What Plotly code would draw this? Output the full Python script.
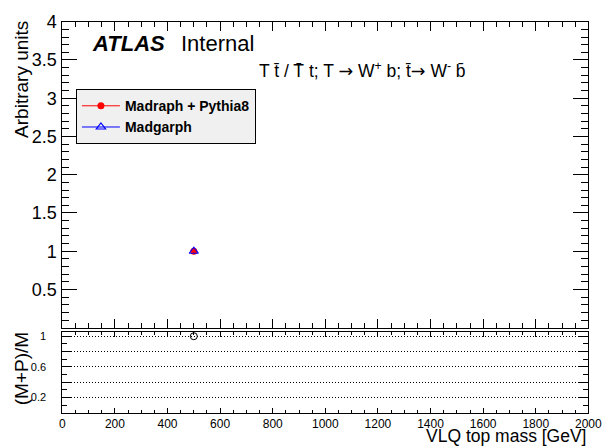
import plotly.graph_objects as go

# Generated VLQ masses and normalised yields
masses = [500]
madgraph_pythia = [1.0]
madgraph = [1.0]
ratio = [p / m for p, m in zip(madgraph_pythia, madgraph)]

FONT = "Liberation Sans"
W, H = 615, 448

def px_x(v):
    return v / W

def px_y(v):
    return 1 - v / H

fig = go.Figure()

fig.add_trace(go.Scatter(
    x=masses, y=madgraph_pythia, name="Madraph + Pythia8",
    mode="lines+markers", xaxis="x2", yaxis="y",
    line=dict(color="#ff0000", width=1),
    marker=dict(symbol="circle", size=7, color="#ff0000"),
))
fig.add_trace(go.Scatter(
    x=masses, y=madgraph, name="Madgarph",
    mode="lines+markers", xaxis="x2", yaxis="y",
    line=dict(color="#0000ff", width=1),
    marker=dict(symbol="triangle-up-open", size=8, color="#0000ff",
                line=dict(width=1.2, color="#0000ff")),
))
fig.add_trace(go.Scatter(
    x=masses, y=ratio, showlegend=False,
    mode="markers", xaxis="x", yaxis="y2",
    marker=dict(symbol="circle-open", size=7, color="black",
                line=dict(width=1, color="black")),
))

xdom = [px_x(61), px_x(602)]
axis_common = dict(showline=True, linecolor="black", linewidth=1,
                   mirror="ticks", ticks="inside", tickcolor="black",
                   zeroline=False, showgrid=False)

fig.update_layout(
    width=W, height=H,
    margin=dict(l=0, r=0, t=0, b=0),
    paper_bgcolor="white", plot_bgcolor="white",
    font=dict(family=FONT, color="black"),
    # ratio pad x axis (carries the mass labels)
    xaxis=dict(
        domain=xdom, anchor="y2", range=[0, 2000],
        tick0=0, dtick=200, ticklen=5,
        minor=dict(ticks="inside", dtick=50, ticklen=3, tickcolor="black"),
        tickfont=dict(size=12), ticklabelstandoff=0, ticklabeloverflow="allow",
        **axis_common,
    ),
    # main pad x axis
    xaxis2=dict(
        domain=xdom, anchor="y", matches="x", range=[0, 2000],
        tick0=0, dtick=200, ticklen=9, showticklabels=False,
        minor=dict(ticks="inside", dtick=50, ticklen=5, tickcolor="black"),
        **axis_common,
    ),
    yaxis=dict(
        domain=[px_y(325), px_y(12)], anchor="x2", range=[0, 4],
        tickvals=[0.5, 1, 1.5, 2, 2.5, 3, 3.5, 4],
        ticktext=["0.5", "1", "1.5", "2", "2.5", "3", "3.5", "4"],
        ticklen=15,
        minor=dict(ticks="inside", dtick=0.1, tick0=0, ticklen=7, tickcolor="black"),
        tickfont=dict(size=18), ticklabelstandoff=1,
        **axis_common,
    ),
    yaxis2=dict(
        domain=[px_y(412), px_y(329)], anchor="x", range=[0, 1.06],
        tickvals=[0.2, 0.4, 0.6, 0.8, 1.0],
        ticktext=["0.2", "", "0.6", "", "1"],
        ticklen=10, tickfont=dict(size=11), ticklabelstandoff=13,
        minor=dict(ticks="inside", dtick=0.1, tick0=0, ticklen=5, tickcolor="black"),
        showline=True, linecolor="black", linewidth=1, mirror="ticks",
        ticks="inside", tickcolor="black", zeroline=False,
        showgrid=True, gridcolor="black", griddash="1px,2px", gridwidth=1,
    ),
    legend=dict(
        x=px_x(75), y=px_y(81), xanchor="left", yanchor="top",
        bgcolor="#f0f0f0", bordercolor="black", borderwidth=1,
        font=dict(size=14, family=FONT, weight="bold"),
        itemwidth=38, tracegroupgap=0,
    ),
)

ARROW = '<span style="font-family:DejaVu Sans">\u2192</span>'
annotations = [
    dict(text="<b><i>ATLAS</i></b>", x=px_x(89), y=px_y(34),
         xanchor="left", yanchor="middle", font=dict(size=22)),
    dict(text="Internal", x=px_x(181), y=px_y(34),
         xanchor="left", yanchor="middle", font=dict(size=22)),
    dict(text=f"T t\u0304 / T\u0304 t; T {ARROW} W<sup>+</sup> b; t\u0304{ARROW} W<sup>-</sup> b\u0304",
         x=px_x(261), y=px_y(61), xanchor="left", yanchor="middle",
         font=dict(size=17.5)),
    dict(text="Arbitrary units", x=px_x(19), y=px_y(71), textangle=-90,
         xanchor="center", yanchor="middle", font=dict(size=19)),
    dict(text="(M+P)/M", x=px_x(19), y=px_y(367), textangle=-90,
         xanchor="center", yanchor="middle", font=dict(size=19)),
    dict(text="VLQ top mass [GeV]", x=px_x(602), y=px_y(436),
         xanchor="right", yanchor="middle", font=dict(size=17.5)),
]
for a in annotations:
    a.update(xref="paper", yref="paper", showarrow=False)
    a["font"].setdefault("family", FONT)
fig.update_layout(annotations=annotations)

fig.write_html("out.html")
